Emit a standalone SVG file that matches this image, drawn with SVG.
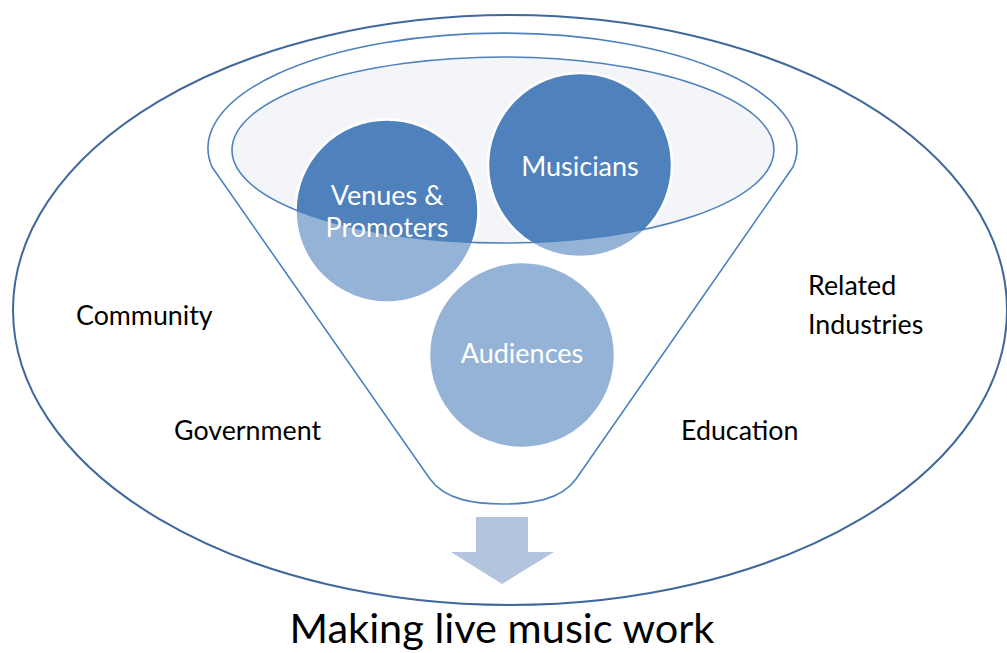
<svg xmlns="http://www.w3.org/2000/svg" width="1007" height="653" viewBox="0 0 1007 653">
  <style>
    .label { font-family: Lato, "Open Sans", "Liberation Sans", sans-serif; fill: #000000; font-size: 26.8px; }
    .node-text { font-family: Lato, "Open Sans", "Liberation Sans", sans-serif; fill: #ffffff; font-size: 27px; text-anchor: middle; }
    .title { font-family: Lato, "Open Sans", "Liberation Sans", sans-serif; fill: #000000; font-size: 41.5px; text-anchor: middle; }
    .disc-light { fill: #95b3d7; stroke: #ffffff; stroke-width: 2.5; }
    .disc-dark { fill: #4f81bd; stroke: #ffffff; stroke-width: 2.5; }
  </style>
  <defs>
    <clipPath id="rimClip">
      <ellipse cx="503" cy="150" rx="271" ry="93"/>
    </clipPath>
  </defs>

  <rect width="1007" height="653" fill="#ffffff"/>

  <!-- surrounding context ellipse -->
  <g id="context">
    <ellipse cx="510" cy="310" rx="497" ry="295" fill="none" stroke="#41689c" stroke-width="2"/>
  </g>

  <!-- funnel body and mouth -->
  <g id="funnel">
    <path d="M 212 167 A 294.5 115 0 1 1 793 167 L 576 479 C 561 500, 531 504, 503 504 C 475 504, 445 500, 430 479 Z"
          fill="#ffffff" stroke="#4f81bd" stroke-width="1.6" stroke-linejoin="round"/>
    <ellipse cx="503" cy="150" rx="271" ry="93" fill="#f3f5f9"/>
  </g>

  <!-- circles: pale where they sit inside the funnel body, full colour inside the mouth -->
  <g id="node-venues">
    <circle class="disc-light" cx="387" cy="211" r="91.5"/>
    <circle class="disc-dark" cx="387" cy="211" r="91.5" clip-path="url(#rimClip)"/>
  </g>
  <g id="node-musicians">
    <circle class="disc-light" cx="580" cy="165" r="92"/>
    <circle class="disc-dark" cx="580" cy="165" r="92" clip-path="url(#rimClip)"/>
  </g>
  <g id="node-audiences">
    <circle class="disc-light" cx="522" cy="355" r="93"/>
  </g>

  <!-- mouth outline drawn over the circles -->
  <ellipse cx="503" cy="150" rx="271" ry="93" fill="none" stroke="#4f81bd" stroke-width="1.6"/>

  <g id="node-text">
    <text class="node-text" x="387" y="205">Venues &amp;</text>
    <text class="node-text" x="387" y="237">Promoters</text>
    <text class="node-text" x="580" y="176">Musicians</text>
    <text class="node-text" x="522" y="363">Audiences</text>
  </g>

  <!-- stakeholder labels around the funnel -->
  <g id="labels">
    <text class="label" x="76" y="325">Community</text>
    <text class="label" x="174" y="440">Government</text>
    <text class="label" x="681" y="440">Education</text>
    <text class="label" x="808" y="295">Related</text>
    <text class="label" x="808" y="334">Industries</text>
  </g>

  <!-- output arrow -->
  <g id="connectors">
    <path d="M 476 517 L 528 517 L 528 552 L 554 552 L 502 584 L 451 552 L 476 552 Z" fill="#b3c4df"/>
  </g>

  <g id="title">
    <text class="title" x="502" y="643">Making live music work</text>
  </g>
</svg>
